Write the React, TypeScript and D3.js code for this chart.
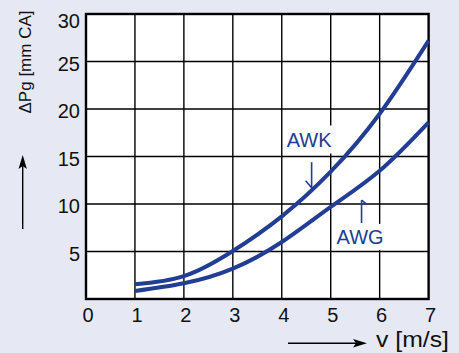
import React from "react";
import * as d3 from "d3";

const velocities = [1, 2, 3, 4, 5, 6, 7];
const awkValues = [1.55, 2.4, 5.05, 8.7, 13.4, 19.5, 27.2];
const awgValues = [0.84, 1.65, 3.2, 6.0, 9.7, 13.5, 18.6];
const xTicks = [0, 1, 2, 3, 4, 5, 6, 7];
const yTicks = [5, 10, 15, 20, 25, 30];
const seriesNames = ["AWK", "AWG"];

const W = 459;
const H = 353;
const BG = "#e6e9f3";
const BLUE = "#213d94";
const FONT = "'Liberation Sans', Arial, Helvetica, sans-serif";

export default function App() {
  const x = d3.scaleLinear().domain([0, 7]).range([86, 428.6]);
  const y = d3.scaleLinear().domain([0, 30]).range([299, 14]);

  const line = d3
    .line<[number, number]>()
    .x((d) => x(d[0]))
    .y((d) => y(d[1]))
    .curve(d3.curveNatural);

  const awk: [number, number][] = velocities.map((v, i) => [v, awkValues[i]]);
  const awg: [number, number][] = velocities.map((v, i) => [v, awgValues[i]]);

  const awkLabel = { v: 4.56, p: 15.95 };
  const awgLabel = { v: 5.6, p: 5.8 };

  return (
    <svg
      width={W}
      height={H}
      style={{ position: "absolute", left: 0, top: 0, display: "block" }}
      fontFamily={FONT}
    >
      <rect x={0} y={0} width={W} height={H} fill={BG} />
      <rect
        x={x(0)}
        y={y(30)}
        width={x(7) - x(0)}
        height={y(0) - y(30)}
        fill="#fff"
      />
      {xTicks.slice(1, -1).map((t) => (
        <line
          key={"gx" + t}
          x1={x(t)}
          x2={x(t)}
          y1={y(0)}
          y2={y(30)}
          stroke="#000"
          strokeWidth={1.4}
        />
      ))}
      {yTicks.slice(0, -1).map((t) => (
        <line
          key={"gy" + t}
          x1={x(0)}
          x2={x(7)}
          y1={y(t)}
          y2={y(t)}
          stroke="#000"
          strokeWidth={1.4}
        />
      ))}
      <rect
        x={x(awkLabel.v) - 25}
        y={y(awkLabel.p) - 22}
        width={50}
        height={28}
        fill="#fff"
      />
      <rect
        x={x(awgLabel.v) - 27}
        y={y(awgLabel.p) - 20}
        width={54}
        height={26}
        fill="#fff"
      />
      <rect
        x={x(0)}
        y={y(30)}
        width={x(7) - x(0)}
        height={y(0) - y(30)}
        fill="none"
        stroke="#000"
        strokeWidth={2.4}
      />
      <path d={line(awk) || ""} fill="none" stroke={BLUE} strokeWidth={4} />
      <path d={line(awg) || ""} fill="none" stroke={BLUE} strokeWidth={4} />

      <text
        x={x(awkLabel.v)}
        y={y(awkLabel.p)}
        textAnchor="middle"
        fontSize={20}
        fill={BLUE}
      >
        {seriesNames[0]}
      </text>
      <g stroke={BLUE} strokeWidth={1.6} fill="none">
        <line x1={x(4.61)} x2={x(4.61)} y1={y(14.4)} y2={y(11.7)} />
        <line x1={x(4.61)} x2={x(4.61) - 6} y1={y(11.7)} y2={y(11.7) - 7} />
      </g>
      <text
        x={x(awgLabel.v)}
        y={y(awgLabel.p)}
        textAnchor="middle"
        fontSize={20}
        fill={BLUE}
      >
        {seriesNames[1]}
      </text>
      <g stroke={BLUE} strokeWidth={1.6} fill="none">
        <line x1={x(5.63)} x2={x(5.63)} y1={y(10.4)} y2={y(8.0)} />
        <line x1={x(5.63)} x2={x(5.63) + 5} y1={y(10.4)} y2={y(10.4) + 4} />
      </g>

      {xTicks.map((t) => (
        <text
          key={"tx" + t}
          x={x(t) + 2}
          y={321.5}
          textAnchor="middle"
          fontSize={20}
          fill="#111"
        >
          {t}
        </text>
      ))}
      {yTicks.map((t) => (
        <text
          key={"ty" + t}
          x={80}
          y={Math.max(y(t) + 9, 28.3)}
          textAnchor="end"
          fontSize={20}
          fill="#111"
        >
          {t}
        </text>
      ))}

      <text
        transform={`translate(30.5,62) rotate(-90)`}
        textAnchor="middle"
        fontSize={17}
        fill="#111"
      >
        ΔPg [mm CA]
      </text>
      <line x1={22.7} x2={22.7} y1={229} y2={166} stroke="#000" strokeWidth={1.4} />
      <path d="M22.7,155 L18.5,169 L22.7,166 L26.9,169 Z" fill="#000" />

      <text
        x={376}
        y={346.5}
        fontSize={22}
        textLength={73}
        lengthAdjust="spacingAndGlyphs"
        fill="#111"
      >
        v [m/s]
      </text>
      <line x1={288} x2={356} y1={343.3} y2={343.3} stroke="#000" strokeWidth={1.4} />
      <path d="M367,343.3 L353,339.1 L356,343.3 L353,347.5 Z" fill="#000" />
    </svg>
  );
}
